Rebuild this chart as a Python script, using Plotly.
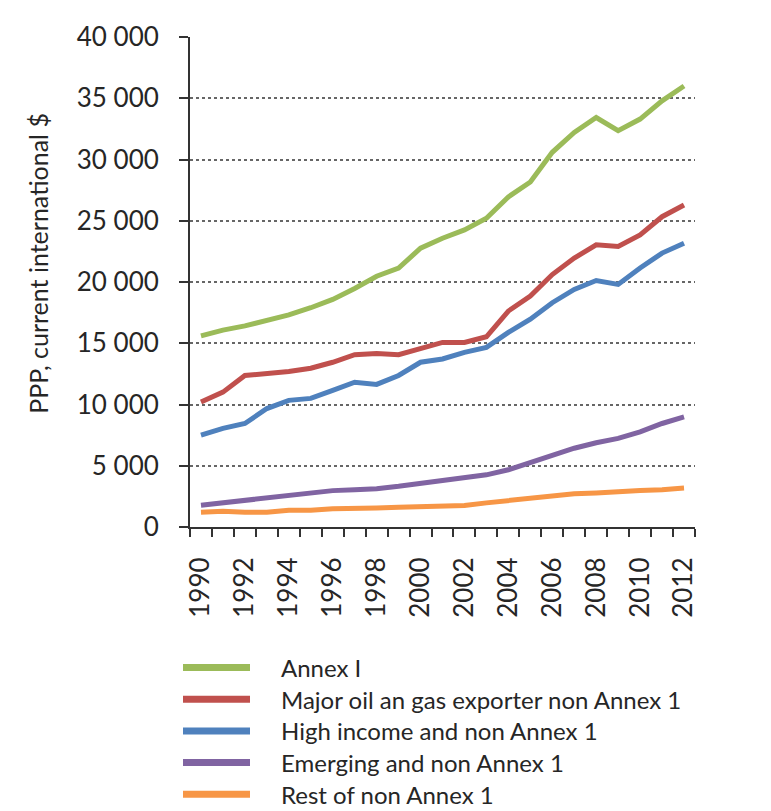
import plotly.graph_objects as go

years = list(range(1990, 2013))
annex_i = [15600, 16070, 16420, 16820, 17310, 17900, 18580, 19470, 20470, 21140, 22760, 23570,
           24250, 25200, 26950, 28160, 30590, 32210, 33430, 32360, 33300, 34790, 36000]
major_oil = [10200, 11010, 12370, 12500, 12690, 12960, 13450, 14070, 14170, 14070, 14610, 15070,
             15070, 15530, 17630, 18850, 20610, 21950, 23040, 22900, 23850, 25330, 26280]
high_income = [7500, 8050, 8450, 9670, 10340, 10500, 11150, 11820, 11640, 12370, 13450, 13720,
               14260, 14660, 15880, 16960, 18310, 19390, 20120, 19800, 21140, 22360, 23170]
emerging = [1780, 1970, 2160, 2370, 2560, 2780, 2970, 3050, 3130, 3320, 3530, 3780,
            4000, 4260, 4670, 5260, 5880, 6430, 6880, 7230, 7770, 8450, 8990]
rest = [1210, 1290, 1210, 1210, 1370, 1370, 1480, 1560, 1560, 1610, 1690, 1750,
        1750, 1970, 2160, 2370, 2560, 2720, 2780, 2830, 2970, 3050, 3180]

series_names = ["Annex I", "Major oil an gas exporter non Annex 1", "High income and non Annex 1",
                "Emerging and non Annex 1", "Rest of non Annex 1"]
series_values = [annex_i, major_oil, high_income, emerging, rest]
series_colors = ["#9BBB59", "#C0504D", "#4F81BD", "#8064A2", "#F79646"]

x_ticks = list(range(1990, 2013, 2))
y_ticks = list(range(0, 40001, 5000))

FONT = "Lato"
TEXT = "#262626"
AXIS = "#333333"

# layout geometry (pixels)
W, H = 771, 811
L, R, T, B = 182, 84, 24, 292
PW, PH = W - L - R, H - T - B


def px_x(x):
    return (x - L) / PW


def px_y(y):
    return (H - B - y) / PH


fig = go.Figure()
for name, vals, col in zip(series_names, series_values, series_colors):
    fig.add_trace(go.Scatter(x=years, y=vals, mode="lines", name=name,
                             line=dict(color=col, width=5), showlegend=False))

# manual legend (long line samples as in the reference)
legend_rows = [661, 693, 725, 757, 789]
for name, col, yy in zip(series_names, series_colors, legend_rows):
    fig.add_shape(type="line", xref="paper", yref="paper",
                  x0=px_x(175), x1=px_x(242), y0=px_y(yy), y1=px_y(yy),
                  line=dict(color=col, width=7))
    fig.add_annotation(xref="paper", yref="paper", x=px_x(273), y=px_y(yy),
                       xanchor="left", yanchor="middle", text=name, showarrow=False,
                       borderpad=0, borderwidth=0,
                       font=dict(family=FONT, size=24, color=TEXT))

# y-axis title
fig.add_annotation(xref="paper", yref="paper", x=px_x(30), y=px_y(253),
                   xanchor="center", yanchor="middle", textangle=-90,
                   text="PPP, current international $", showarrow=False,
                   font=dict(family=FONT, size=25, color=TEXT))

fig.update_layout(
    width=W, height=H,
    margin=dict(l=L, r=R, t=T, b=B, pad=0),
    paper_bgcolor="white", plot_bgcolor="white",
    separators=". ",
    font=dict(family=FONT, size=25, color=TEXT),
    xaxis=dict(
        range=[1989.5, 2012.5], tickvals=x_ticks, ticktext=[str(v) for v in x_ticks],
        tickangle=-90, ticks="", showgrid=False, zeroline=False,
        showline=True, linecolor=AXIS, linewidth=2,
        ticklabelstandoff=18,
        tickfont=dict(family=FONT, size=26, color=TEXT),
        minor=dict(ticks="outside", ticklen=8, tickwidth=2, tickcolor=AXIS,
                   tick0=1989.5, dtick=1, showgrid=False),
    ),
    yaxis=dict(
        range=[0, 40000], tickvals=y_ticks, tickformat=",d",
        ticks="outside", ticklen=9, tickwidth=2, tickcolor=AXIS,
        ticklabelstandoff=15,
        showgrid=True, gridcolor="#666666", gridwidth=2, griddash="dot",
        zeroline=False, showline=True, linecolor=AXIS, linewidth=2,
        tickfont=dict(family=FONT, size=26, color=TEXT),
    ),
)

fig.write_html("out.html")
